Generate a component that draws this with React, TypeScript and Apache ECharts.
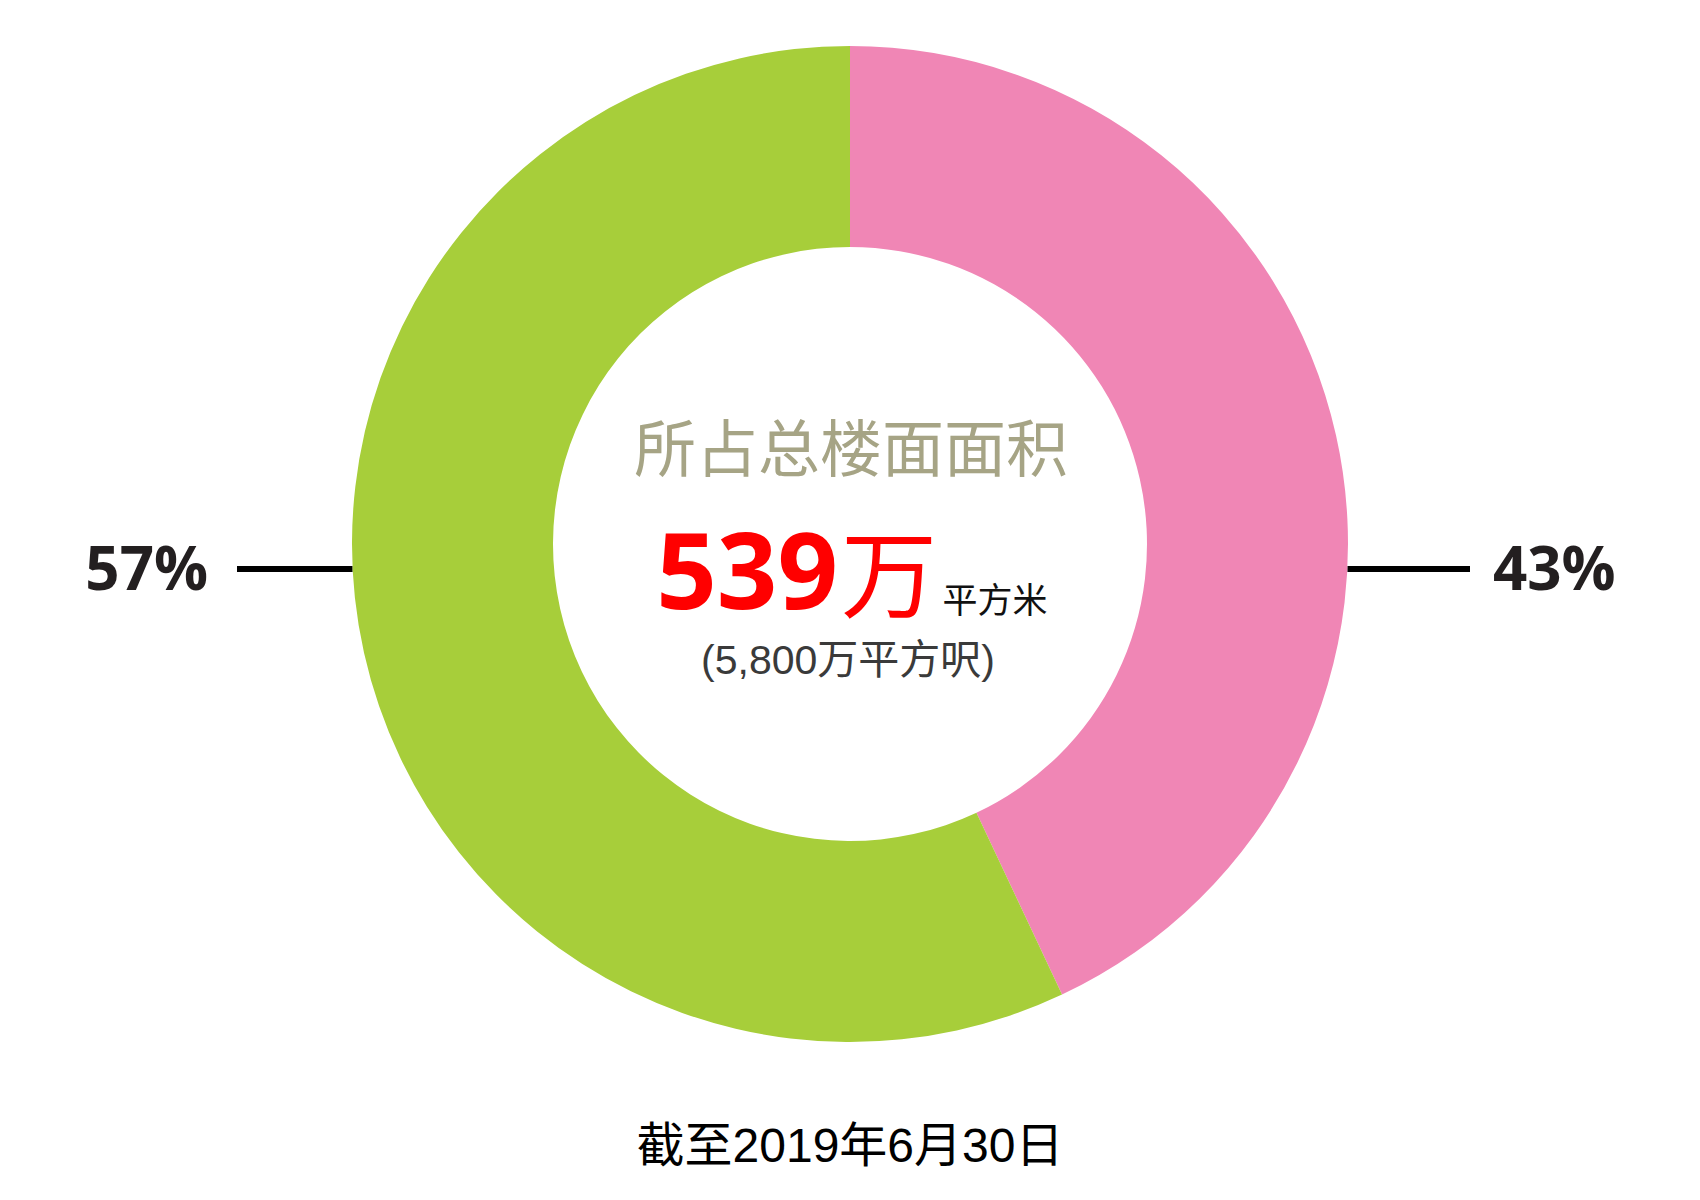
import { useEffect, useRef } from "react";
import * as echarts from "echarts";

// share of total floor area, as of 30 June 2019
const SEGMENT_NAMES = ["粉红", "绿色"];
const SEGMENT_VALUES = [43, 57];
const SEGMENT_COLORS = ["#f086b5", "#a7ce3a"];

const TITLE = "所占总楼面面积";
const TOTAL_VALUE = "539";
const TOTAL_UNIT = "万";
const TOTAL_AREA_UNIT = "平方米";
const TOTAL_SQFT = "(5,800万平方呎)";
const FOOTNOTE = "截至2019年6月30日";

const CX = 850;
const CY = 544;
const R_INNER = 297;
const R_OUTER = 498;
const LINE_Y = 569;
const CJK = "'Noto Sans CJK SC', sans-serif";
const LATIN_CJK = "'Liberation Sans', 'Noto Sans CJK SC', sans-serif";

export default function App() {
  const chartRef = useRef<HTMLDivElement>(null);

  useEffect(() => {
    if (!chartRef.current) return;
    const chart = echarts.init(chartRef.current, null, { renderer: "svg" });

    // leader lines run horizontally from the ring's outer edge
    const dy = LINE_Y - CY;
    const edge = Math.sqrt(R_OUTER * R_OUTER - dy * dy);

    const option: echarts.EChartsOption = {
      animation: false,
      backgroundColor: "#ffffff",
      series: [
        {
          type: "pie",
          center: [CX, CY],
          radius: [R_INNER, R_OUTER],
          startAngle: 90,
          clockwise: true,
          silent: true,
          data: SEGMENT_VALUES.map((v, i) => ({
            name: SEGMENT_NAMES[i],
            value: v,
            itemStyle: { color: SEGMENT_COLORS[i] },
          })),
          label: {
            show: true,
            position: "outside",
            formatter: "{c}%",
            fontFamily: "'Open Sans', sans-serif",
            fontWeight: "bold",
            fontSize: 60,
            color: "#231f20",
          },
          labelLine: { show: false },
          labelLayout: (params: any) =>
            params.dataIndex === 0
              ? { x: 1493, y: LINE_Y - 2, align: "left", verticalAlign: "middle" }
              : { x: 208, y: LINE_Y - 2, align: "right", verticalAlign: "middle" },
        },
      ],
      graphic: [
        {
          type: "line",
          shape: { x1: CX + edge, y1: LINE_Y, x2: 1470, y2: LINE_Y },
          style: { stroke: "#000000", lineWidth: 6 },
        },
        {
          type: "line",
          shape: { x1: 237, y1: LINE_Y, x2: CX - edge, y2: LINE_Y },
          style: { stroke: "#000000", lineWidth: 6 },
        },
        {
          type: "text",
          x: 851,
          y: 445,
          style: {
            text: TITLE,
            fill: "#a6a485",
            font: `62px ${CJK}`,
            align: "center",
            verticalAlign: "middle",
          },
        },
        {
          type: "text",
          x: 838,
          y: 568,
          style: {
            text: TOTAL_VALUE,
            fill: "#ff0000",
            font: "bold 106px 'Open Sans', sans-serif",
            lineHeight: 80,
            align: "right",
            verticalAlign: "middle",
          },
        },
        {
          type: "text",
          x: 889,
          y: 568,
          style: {
            text: TOTAL_UNIT,
            fill: "#ff0000",
            font: `96px ${CJK}`,
            lineHeight: 80,
            align: "center",
            verticalAlign: "middle",
          },
        },
        {
          type: "text",
          x: 995,
          y: 597,
          style: {
            text: TOTAL_AREA_UNIT,
            fill: "#111111",
            font: `35px ${CJK}`,
            align: "center",
            verticalAlign: "middle",
          },
        },
        {
          type: "text",
          x: 848,
          y: 660,
          style: {
            text: TOTAL_SQFT,
            fill: "#3a3a3a",
            font: `41px ${LATIN_CJK}`,
            align: "center",
            verticalAlign: "middle",
          },
        },
        {
          type: "text",
          x: 850,
          y: 1145,
          style: {
            text: FOOTNOTE,
            fill: "#000000",
            font: `48px ${LATIN_CJK}`,
            align: "center",
            verticalAlign: "middle",
          },
        },
      ],
    };

    chart.setOption(option);
    return () => chart.dispose();
  }, []);

  return (
    <div
      ref={chartRef}
      style={{ position: "fixed", left: 0, top: 0, width: 1700, height: 1200, background: "#fff" }}
    />
  );
}
